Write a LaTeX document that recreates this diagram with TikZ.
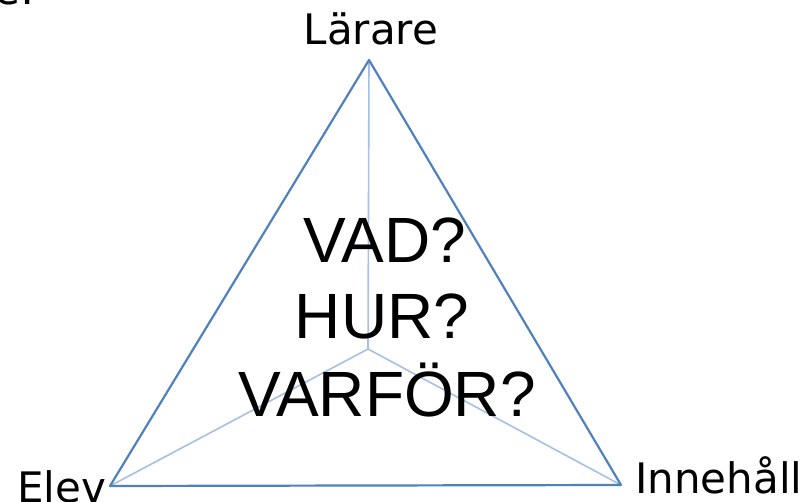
\documentclass[tikz,border=0pt]{standalone}
\usepackage{fontspec}
\setmainfont{DejaVu Sans}
\newfontfamily\arialfont{Liberation Sans}
\definecolor{outerblue}{RGB}{79,129,189}
\definecolor{innerblue}{RGB}{165,192,228}
\tikzset{
  outerline/.style={draw=outerblue, line width=2.2pt, line join=round},
  innerline/.style={draw=innerblue, line width=1.6pt},
  cornerlabel/.style={font=\fontsize{42}{50}\selectfont, inner sep=0pt, text=black},
  question/.style={font=\arialfont\fontsize{64}{77}\selectfont, inner sep=0pt, text=black}
}
\begin{document}
\begin{tikzpicture}[x=1pt,y=-1pt]
\useasboundingbox (0,0) rectangle (800,502);
\clip (0,0) rectangle (800,502);
\coordinate (A) at (369,60);
\coordinate (B) at (110,486);
\coordinate (C) at (621,485);
\coordinate (O) at (368,349);
\draw[innerline] (A) -- (O) (O) -- (B) (O) -- (C);
\draw[outerline] (A) -- (B) -- (C) -- cycle;
\node[cornerlabel, anchor=base] (lar) at (371,45) {Lärare};
\node[cornerlabel, anchor=base west] (elev) at (17,502) {Elev};
\node[cornerlabel, anchor=base west] (inne) at (635,493) {Innehåll};
\node[cornerlabel, anchor=base west] (frag) at (-6,5) {e:};
\node[question, anchor=base] (q1) at (385,263) {VAD?};
\node[question, anchor=base] (q2) at (382,338) {HUR?};
\node[question, anchor=base] (q3) at (387,416) {VARFÖR?};
\end{tikzpicture}
\end{document}
